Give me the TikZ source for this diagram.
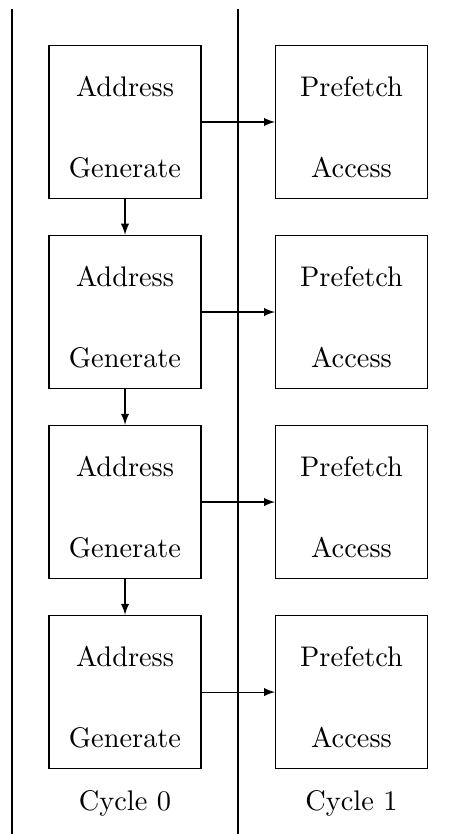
\documentclass[tikz,border=0pt]{standalone}
\usepackage{tikz}
\usetikzlibrary{arrows}
\tikzset{
    stagebox/.style={draw, minimum width=1.95cm, minimum height=1.97cm, align=center, inner sep=0pt,
        font=\fontsize{10.35pt}{12.4pt}\selectfont},
    cyclelabel/.style={font=\fontsize{10.35pt}{12.4pt}\selectfont}
}
\begin{document}
\begin{tikzpicture}
            \useasboundingbox (0,0) rectangle (5.825,-10.70);

            \coordinate (l0) at (0.154,-0.115);
            \coordinate (l1) at (0.154,-10.70);
            \coordinate (m0) at (3.054,-0.115);
            \coordinate (m1) at (3.054,-10.70);
            \draw (l0) -- (l1);
            \draw (m0) -- (m1);

            \foreach \i in {0,...,3} {
                \node[stagebox] (ag\i) at (1.604,-1.565-2.438*\i) {\rule{0pt}{11pt}Address\\[17pt]Generate};
                \node[stagebox] (pa\i) at (4.51,-1.565-2.438*\i) {\rule{0pt}{11pt}Prefetch\\[17pt]Access};
                \draw[-latex] (ag\i) -- (pa\i);
            }
            \draw[-latex] (ag0) -- (ag1);
            \draw[-latex] (ag1) -- (ag2);
            \draw[-latex] (ag2) -- (ag3);

            \node[cyclelabel] (c0) at (1.604,-10.31) {Cycle 0};
            \node[cyclelabel] (c1) at (4.51,-10.31) {Cycle 1};
        \end{tikzpicture}
\end{document}
